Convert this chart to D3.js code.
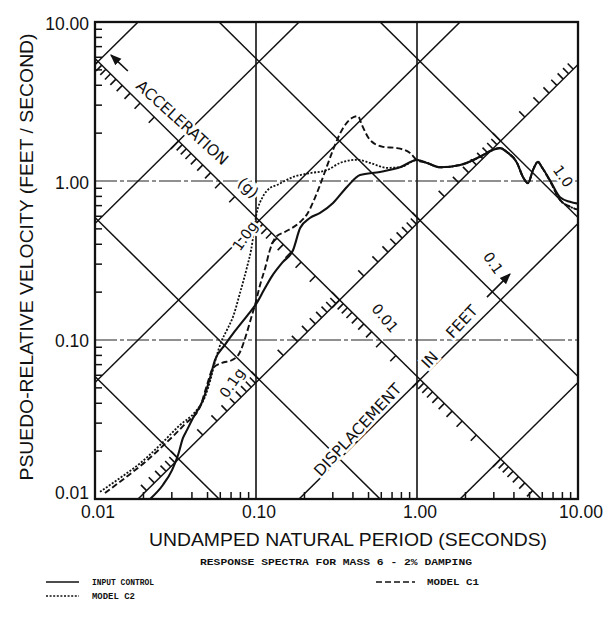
<!DOCTYPE html>
<html>
<head>
<meta charset="utf-8">
<script src="https://cdn.jsdelivr.net/npm/d3@7"></script>
<style>
  body { margin: 0; background: #fff; }
  text { fill: #111; }
</style>
</head>
<body>
<div id="chart"></div>
<script>
// Axis ticks and labels
const periodTicks = [0.01, 0.1, 1, 10];
const periodLabels = ["0.01", "0.10", "1.00", "10.00"];
const velocityTicks = [0.01, 0.1, 1, 10];
const velocityLabels = ["0.01", "0.10", "1.00", "10.00"];

// Diagonal grid: constant acceleration (g) and constant displacement (feet)
const accelG = [0.001, 0.01, 0.1, 1, 10, 100];
const dispFt = [0.0001, 0.001, 0.01, 0.1, 1];
const KA = 5.4;   // ft/s per (g * s), as drawn on the sheet
const KD = 5.9;   // (ft/s) * s per ft, as drawn on the sheet

// INPUT CONTROL (solid)
const inputT = [0.0220, 0.0264, 0.0301, 0.0328, 0.0352, 0.0373, 0.0406, 0.0469, 0.0518, 0.0556,
  0.0641, 0.0741, 0.0880, 0.100, 0.112, 0.126, 0.147, 0.170, 0.188, 0.216, 0.250, 0.301, 0.367,
  0.443, 0.589, 0.784, 1.0, 1.153, 1.39, 1.85, 2.46, 2.97, 3.28, 3.62, 4.18, 4.55, 4.89, 5.25,
  5.64, 5.97, 6.70, 7.73, 8.91, 10];
const inputV = [0.0100, 0.01225, 0.0152, 0.0189, 0.0242, 0.0272, 0.0323, 0.0420, 0.0577, 0.0748,
  0.0931, 0.114, 0.142, 0.168, 0.206, 0.253, 0.310, 0.368, 0.506, 0.585, 0.630, 0.728, 0.917,
  1.09, 1.14, 1.22, 1.355, 1.30, 1.22, 1.26, 1.42, 1.57, 1.61, 1.52, 1.30, 1.06, 0.97, 1.17,
  1.32, 1.22, 1.01, 0.79, 0.74, 0.72];

// MODEL C1 (dashed)
const c1T = [0.01153, 0.01534, 0.0205, 0.0272, 0.0362, 0.0449, 0.0496, 0.0541, 0.0615, 0.0710,
  0.0796, 0.0867, 0.0932, 0.0986, 0.106, 0.114, 0.122, 0.133, 0.151, 0.188, 0.208, 0.232, 0.250,
  0.276, 0.301, 0.347, 0.394, 0.430, 0.455, 0.511, 0.615, 0.752, 0.906, 1.0, 1.153, 1.39, 1.85,
  2.46, 2.97, 3.28, 3.62, 4.18, 4.55, 4.89, 5.25, 5.64, 5.97, 6.70, 7.73, 8.91, 10];
const c1V = [0.0109, 0.01355, 0.0171, 0.0222, 0.0296, 0.0380, 0.0521, 0.0667, 0.0717, 0.0748,
  0.0841, 0.107, 0.137, 0.166, 0.222, 0.284, 0.368, 0.445, 0.478, 0.552, 0.620, 0.781, 0.944,
  1.24, 1.57, 2.15, 2.49, 2.56, 2.25, 1.81, 1.64, 1.61, 1.50, 1.355, 1.30, 1.22, 1.26,
  1.42, 1.57, 1.61, 1.52, 1.30, 1.06, 0.97, 1.17, 1.32, 1.22, 1.0, 0.76, 0.69, 0.66];

// MODEL C2 (dotted)
const c2T = [0.01074, 0.01429, 0.0191, 0.0254, 0.0337, 0.0418, 0.0482, 0.0525, 0.0556, 0.0615,
  0.0661, 0.0720, 0.0796, 0.0880, 0.0932, 0.101, 0.110, 0.122, 0.135, 0.170, 0.216, 0.276, 0.333,
  0.424, 0.511, 0.652, 0.784, 1.0, 1.153, 1.39, 1.85, 2.46, 2.97, 3.28, 3.62, 4.18, 4.55, 4.89,
  5.25, 5.64, 5.97, 6.70, 7.73, 8.91, 10];
const c2V = [0.0111, 0.01355, 0.0168, 0.0219, 0.0292, 0.0352, 0.0439, 0.0577, 0.0728, 0.100,
  0.116, 0.140, 0.198, 0.288, 0.368, 0.630, 0.793, 0.903, 0.944, 1.06, 1.12, 1.17, 1.30,
  1.36, 1.30, 1.21, 1.22, 1.355, 1.30, 1.22, 1.26, 1.42, 1.57, 1.61, 1.52, 1.30, 1.06, 0.97,
  1.17, 1.32, 1.22, 1.0, 0.76, 0.69, 0.66];

// Annotation anchors in chart units (period s, velocity ft/s)
const notes = [
  { text: "ACCELERATION", T: 0.0347, V: 2.32, angle: 42, size: 15.5 },
  { text: "(g)", T: 0.0891, V: 0.904, angle: 42, size: 15.5 },
  { text: "1.0g", T: 0.0855, V: 0.451, angle: -55, size: 14.5 },
  { text: "0.1g", T: 0.0710, V: 0.0537, angle: -55, size: 14.5 },
  { text: "0.01", T: 0.632, V: 0.137, angle: 50, size: 14.5 },
  { text: "0.1", T: 2.97, V: 0.305, angle: 55, size: 14.5 },
  { text: "1.0", T: 8.07, V: 1.07, angle: 55, size: 14.5 },
  { text: "DISPLACEMENT", T: 0.430, V: 0.0272, angle: -47, size: 15.5 },
  { text: "IN", T: 1.205, V: 0.0748, angle: -47, size: 15.5 },
  { text: "FEET", T: 1.905, V: 0.130, angle: -47, size: 15.5 }
];
const arrows = [
  { from: [0.0160, 4.92], to: [0.01257, 6.19] },
  { from: [2.72, 0.186], to: [3.78, 0.260] }
];

const width = 609, height = 620;
const plot = { left: 95, right: 578, top: 22, bottom: 499 };

const svg = d3.select("#chart").append("svg")
  .attr("width", width)
  .attr("height", height)
  .style("font-family", "'Liberation Sans', Arial, sans-serif");

const x = d3.scaleLog().domain([0.01, 10]).range([plot.left, plot.right]);
const y = d3.scaleLog().domain([0.01, 10]).range([plot.bottom, plot.top]);

svg.append("clipPath").attr("id", "clip")
  .append("rect")
  .attr("x", plot.left).attr("y", plot.top)
  .attr("width", plot.right - plot.left).attr("height", plot.bottom - plot.top);

const inner = svg.append("g").attr("clip-path", "url(#clip)");

// Vertical grid lines at decades
inner.selectAll("line.vgrid")
  .data(periodTicks.slice(1, -1))
  .join("line").attr("class", "vgrid")
  .attr("x1", d => x(d)).attr("x2", d => x(d))
  .attr("y1", plot.top).attr("y2", plot.bottom)
  .attr("stroke", "#111").attr("stroke-width", 1.6);

// Horizontal dash-dot grid lines
inner.selectAll("line.hgrid")
  .data(velocityTicks.slice(1, -1))
  .join("line").attr("class", "hgrid")
  .attr("x1", plot.left).attr("x2", plot.right)
  .attr("y1", d => y(d)).attr("y2", d => y(d))
  .attr("stroke", "#222").attr("stroke-width", 1.1)
  .attr("stroke-dasharray", "22,3,4,3");

// Diagonal lines
const diag = d3.line().x(d => x(d[0])).y(d => y(d[1]));
const tRange = [0.001, 100];
inner.selectAll("path.acc")
  .data(accelG)
  .join("path").attr("class", "acc")
  .attr("d", a => diag(tRange.map(t => [t, KA * a * t])))
  .attr("stroke", "#111").attr("stroke-width", 1.5).attr("fill", "none");
inner.selectAll("path.disp")
  .data(dispFt)
  .join("path").attr("class", "disp")
  .attr("d", D => diag(tRange.map(t => [t, KD * D / t])))
  .attr("stroke", "#111").attr("stroke-width", 1.5).attr("fill", "none");

// Crossing of an acceleration line and a displacement line
function crossing(a, D) {
  const T = Math.sqrt(KD * D / (KA * a));
  return [T, KA * a * T];
}

const subdiv = [];
for (let n = -5; n <= 3; n++) for (let k = 1; k <= 9; k++) subdiv.push({ v: k * Math.pow(10, n), major: k === 1 });

function tickMarks(pointFn, side) {
  const out = [];
  subdiv.forEach(s => {
    const p = pointFn(s.v), q = pointFn(s.v * 1.05);
    const px = x(p[0]), py = y(p[1]);
    if (px < plot.left + 2 || px > plot.right - 2 || py < plot.top + 2 || py > plot.bottom - 2) return;
    let dx = x(q[0]) - px, dy = y(q[1]) - py;
    const len = Math.hypot(dx, dy); dx /= len; dy /= len;
    const L = s.major ? 11 : 8;
    out.push({ x1: px, y1: py, x2: px - side * dy * L, y2: py + side * dx * L });
  });
  return out;
}

// Acceleration scale on the 0.01 ft line, displacement scale on the 0.1 g line
const accTicks = tickMarks(a => crossing(a, 0.01), -1);
const dispTicks = tickMarks(D => crossing(0.1, D), -1);
svg.append("g").attr("clip-path", "url(#clip)")
  .selectAll("line")
  .data(accTicks.concat(dispTicks))
  .join("line")
  .attr("x1", d => d.x1).attr("y1", d => d.y1)
  .attr("x2", d => d.x2).attr("y2", d => d.y2)
  .attr("stroke", "#111").attr("stroke-width", 1.6);

// Response curves
const curve = d3.line()
  .x(d => x(d[0])).y(d => y(d[1]))
  .curve(d3.curveMonotoneX);
const series = [
  { T: inputT, V: inputV, dash: null, w: 2.1 },
  { T: c1T, V: c1V, dash: "6,3", w: 1.9 },
  { T: c2T, V: c2V, dash: "2,1.6", w: 1.8 }
];
inner.selectAll("path.series")
  .data(series)
  .join("path").attr("class", "series")
  .attr("d", s => curve(s.T.map((t, i) => [t, s.V[i]])))
  .attr("fill", "none")
  .attr("stroke", "#111")
  .attr("stroke-width", s => s.w)
  .attr("stroke-dasharray", s => s.dash);

// Diagonal labels with white halo to break the lines behind them
svg.selectAll("text.note")
  .data(notes)
  .join("text").attr("class", "note")
  .attr("transform", d => `translate(${x(d.T)},${y(d.V)}) rotate(${d.angle})`)
  .attr("text-anchor", "middle")
  .attr("dominant-baseline", "central")
  .attr("font-family", "'DejaVu Sans', sans-serif")
  .attr("font-size", d => d.size)
  .attr("stroke", "#fff").attr("stroke-width", 5)
  .attr("paint-order", "stroke")
  .text(d => d.text);

svg.append("defs").append("marker")
  .attr("id", "arrow").attr("viewBox", "0 0 10 10")
  .attr("refX", 9).attr("refY", 5)
  .attr("markerWidth", 7).attr("markerHeight", 7)
  .attr("orient", "auto")
  .append("path").attr("d", "M0,1 L10,5 L0,9 Z").attr("fill", "#111");

svg.selectAll("line.arrow")
  .data(arrows)
  .join("line").attr("class", "arrow")
  .attr("x1", d => x(d.from[0])).attr("y1", d => y(d.from[1]))
  .attr("x2", d => x(d.to[0])).attr("y2", d => y(d.to[1]))
  .attr("stroke", "#111").attr("stroke-width", 1.6)
  .attr("marker-end", "url(#arrow)");

// Frame
svg.append("rect")
  .attr("x", plot.left).attr("y", plot.top)
  .attr("width", plot.right - plot.left).attr("height", plot.bottom - plot.top)
  .attr("fill", "none").attr("stroke", "#111").attr("stroke-width", 2.3);

// Minor ticks on left and bottom edges (inside)
const minor = [];
[0.01, 0.1, 1].forEach(dec => { for (let k = 2; k <= 9; k++) minor.push(dec * k); });
svg.append("g").selectAll("line")
  .data(minor)
  .join("line")
  .attr("x1", plot.left).attr("x2", plot.left + 7)
  .attr("y1", d => y(d)).attr("y2", d => y(d))
  .attr("stroke", "#111").attr("stroke-width", 1.5);
svg.append("g").selectAll("line")
  .data(minor)
  .join("line")
  .attr("x1", d => x(d)).attr("x2", d => x(d))
  .attr("y1", plot.bottom).attr("y2", plot.bottom - 7)
  .attr("stroke", "#111").attr("stroke-width", 1.5);

// Tick labels
svg.selectAll("text.xlab")
  .data(periodTicks)
  .join("text").attr("class", "xlab")
  .attr("x", d => x(d) + 3).attr("y", plot.bottom + 19)
  .attr("text-anchor", "middle")
  .attr("font-size", 17.5)
  .text((d, i) => periodLabels[i]);
const yLabelShift = [0, 7, 8, 8];
svg.selectAll("text.ylab")
  .data(velocityTicks)
  .join("text").attr("class", "ylab")
  .attr("x", plot.left - 6).attr("y", (d, i) => y(d) + yLabelShift[i])
  .attr("text-anchor", "end")
  .attr("font-size", 17.5)
  .text((d, i) => velocityLabels[i]);

// Axis titles
svg.append("text")
  .attr("x", 348).attr("y", 546)
  .attr("text-anchor", "middle")
  .attr("font-size", 18.5)
  .attr("textLength", 398).attr("lengthAdjust", "spacingAndGlyphs")
  .text("UNDAMPED NATURAL PERIOD (SECONDS)");
svg.append("text")
  .attr("transform", "translate(33,257) rotate(-90)")
  .attr("text-anchor", "middle")
  .attr("font-size", 19)
  .attr("textLength", 447).attr("lengthAdjust", "spacingAndGlyphs")
  .text("PSUEDO-RELATIVE VELOCITY (FEET / SECOND)");

// Caption and legend
const mono = "'Liberation Mono', 'DejaVu Sans Mono', monospace";
svg.append("text")
  .attr("x", 336).attr("y", 565)
  .attr("text-anchor", "middle")
  .attr("font-family", mono).attr("font-weight", "bold")
  .attr("font-size", 8.5)
  .attr("textLength", 272).attr("lengthAdjust", "spacingAndGlyphs")
  .text("RESPONSE SPECTRA FOR MASS 6 - 2% DAMPING");

const legendItems = [
  { label: "INPUT CONTROL", dash: null, lx: 46, lw: 33, tx: 92, ly: 585, tw: 62 },
  { label: "MODEL C1", dash: "6,3", lx: 376, lw: 39, tx: 427, ly: 585, tw: 52 },
  { label: "MODEL C2", dash: "2,1.6", lx: 46, lw: 33, tx: 92, ly: 599, tw: 43 }
];
const leg = svg.selectAll("g.leg").data(legendItems).join("g").attr("class", "leg");
leg.append("line")
  .attr("x1", d => d.lx).attr("x2", d => d.lx + d.lw)
  .attr("y1", d => d.ly - 3).attr("y2", d => d.ly - 3)
  .attr("stroke", "#111").attr("stroke-width", 1.6)
  .attr("stroke-dasharray", d => d.dash);
leg.append("text")
  .attr("x", d => d.tx).attr("y", d => d.ly)
  .attr("font-family", mono).attr("font-weight", "bold")
  .attr("font-size", 8.5)
  .attr("textLength", d => d.tw).attr("lengthAdjust", "spacingAndGlyphs")
  .text(d => d.label);
</script>
</body>
</html>
